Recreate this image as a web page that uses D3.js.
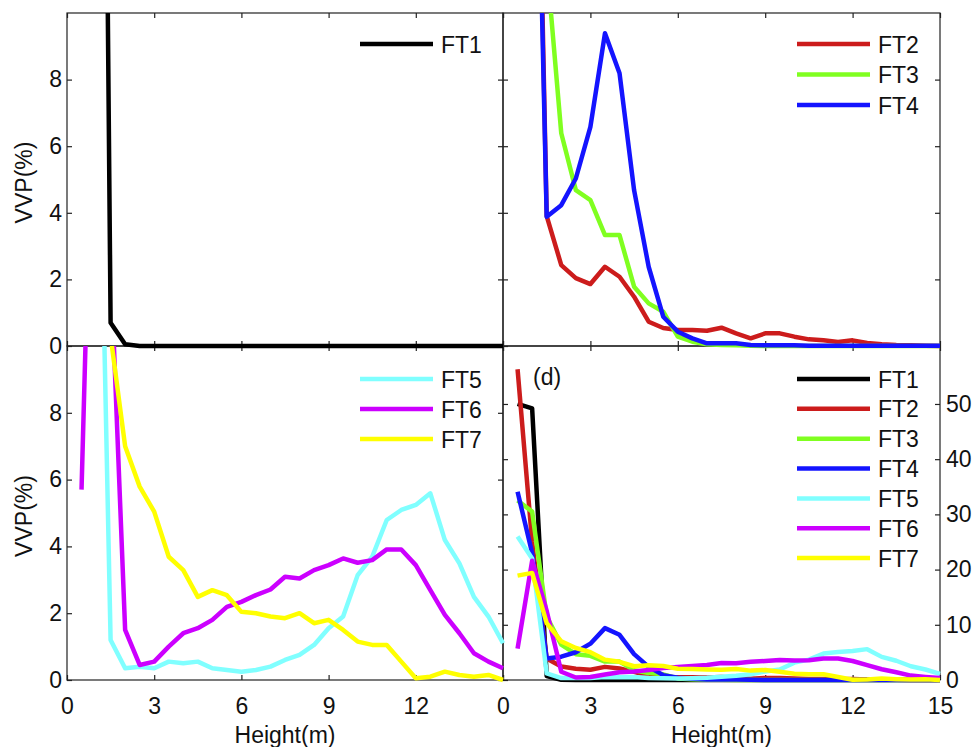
<!DOCTYPE html>
<html><head><meta charset="utf-8">
<script src="https://cdn.jsdelivr.net/npm/d3@7"></script>
<style>
body{margin:0;background:#fff}
svg{display:block}
text{font-family:"Liberation Sans",Arial,Helvetica,sans-serif;fill:#111}
</style>
</head><body>
<svg id="chart" width="976" height="747"></svg>
<script>
// ---------------- data ----------------
const heights = [0.5,1.0,1.5,2.0,2.5,3.0,3.5,4.0,4.5,5.0,5.5,6.0,6.5,7.0,7.5,8.0,8.5,9.0,9.5,10.0,10.5,11.0,11.5,12.0,12.5,13.0,13.5,14.0,14.5,15.0];
const ft1 = [50,49.2,0.7,0.05,0,0,0,0,0,0,0,0,0,0,0,0,0,0,0,0,0,0,0,0,0,0,0,0,0,0];
const ft2 = [56.3,25,3.9,2.43,2.04,1.86,2.38,2.08,1.48,0.73,0.54,0.48,0.48,0.46,0.55,0.38,0.23,0.38,0.38,0.28,0.2,0.17,0.12,0.17,0.09,0.05,0.03,0.02,0.01,0];
const ft3 = [32.5,30.5,11.5,6.39,4.68,4.38,3.33,3.33,1.78,1.28,1.03,0.28,0.13,0.05,0.03,0.02,0.01,0,0,0,0,0,0,0,0,0,0,0,0,0];
const ft4 = [34.1,23,3.88,4.23,5.03,6.58,9.39,8.19,4.68,2.38,0.88,0.43,0.23,0.08,0.08,0.08,0.03,0.02,0.02,0.02,0.01,0.01,0.01,0.01,0.01,0.01,0.01,0.01,0.01,0.01];
const ft5 = [26,22,1.2,0.35,0.4,0.35,0.55,0.5,0.55,0.35,0.3,0.25,0.3,0.4,0.6,0.75,1.05,1.55,1.9,3.14,3.69,4.79,5.09,5.24,5.59,4.19,3.49,2.49,1.9,1.1];
const ft6 = [5.7,21.6,12.5,1.5,0.45,0.55,1.0,1.4,1.55,1.8,2.19,2.34,2.54,2.71,3.09,3.04,3.29,3.44,3.64,3.51,3.59,3.91,3.91,3.44,2.69,1.95,1.4,0.8,0.55,0.35];
const ft7 = [18.9,19.4,10.3,7.0,5.79,5.04,3.69,3.29,2.49,2.69,2.54,2.04,2.0,1.9,1.85,2.0,1.7,1.8,1.5,1.15,1.05,1.05,0.55,0.05,0.1,0.25,0.15,0.1,0.15,0.0];
const seriesNames = ["FT1","FT2","FT3","FT4","FT5","FT6","FT7"];
const seriesValues = [ft1,ft2,ft3,ft4,ft5,ft6,ft7];
const xTickValues = [0,3,6,9,12,15];
const xTickLabelsC = [0,3,6,9,12];
const yTickValues = [0,2,4,6,8];
const yTickValuesD = [0,10,20,30,40,50];
const xLabel = "Height(m)";
const yLabel = "VVP(%)";
const panelDTag = "(d)";

// ---------------- styles ----------------
const colors = ["#000000","#cc1c1c","#80ff20","#1414ff","#80ffff","#cc00ff","#ffff00"];
const FS = 23;
const svg = d3.select("#chart");
const defs = svg.append("defs");

const panels = [
  {id:"a", x0:67,  x1:503, y0:13,  y1:346, ymax:10,   series:[0],           yt:yTickValues, leftLabels:true,  rightLabels:false, xLabels:null,          legend:{x:360, y:44,  step:30.5}},
  {id:"b", x0:503, x1:940, y0:13,  y1:346, ymax:10,   series:[1,2,3],       yt:yTickValues, leftLabels:false, rightLabels:false, xLabels:null,          legend:{x:797, y:44,  step:30.5}},
  {id:"c", x0:67,  x1:503, y0:346, y1:680, ymax:10,   series:[4,5,6],       yt:yTickValues, leftLabels:true,  rightLabels:false, xLabels:xTickLabelsC,  legend:{x:360, y:379, step:30}},
  {id:"d", x0:503, x1:940, y0:346, y1:680, ymax:60.5, series:[0,1,2,3,4,5,6], yt:yTickValuesD, leftLabels:false, rightLabels:true, xLabels:xTickValues, legend:{x:797, y:379, step:29.85}}
];

panels.forEach(p => {
  p.x = d3.scaleLinear().domain([0,15]).range([p.x0,p.x1]);
  p.y = d3.scaleLinear().domain([0,p.ymax]).range([p.y1,p.y0]);
  defs.append("clipPath").attr("id","clip"+p.id)
    .append("rect").attr("x",p.x0-3).attr("y",p.y0).attr("width",p.x1-p.x0+6).attr("height",p.y1-p.y0+3);
});

// axes (boxes + inward ticks)
const axesLayer = svg.append("g");
panels.forEach(p => {
  const g = axesLayer.append("g");
  const styleAxis = sel => {
    sel.select(".domain").remove();
    sel.selectAll(".tick line").attr("stroke","#222").attr("stroke-width",1.2);
    sel.selectAll(".tick text").style("font-size",FS+"px").attr("fill","#111");
  };
  g.append("g").attr("transform",`translate(0,${p.y1})`)
    .call(d3.axisBottom(p.x).tickValues(xTickValues).tickSizeInner(-5).tickSizeOuter(0).tickPadding(18)
      .tickFormat(d => (p.xLabels && p.xLabels.includes(d)) ? d : ""))
    .call(styleAxis);
  g.append("g").attr("transform",`translate(0,${p.y0})`)
    .call(d3.axisTop(p.x).tickValues(xTickValues).tickSizeInner(-5).tickSizeOuter(0).tickFormat(""))
    .call(styleAxis);
  g.append("g").attr("transform",`translate(${p.x0},0)`)
    .call(d3.axisLeft(p.y).tickValues(p.yt).tickSizeInner(-5).tickSizeOuter(0).tickPadding(5)
      .tickFormat(d => p.leftLabels ? d : ""))
    .call(styleAxis);
  g.append("g").attr("transform",`translate(${p.x1},0)`)
    .call(d3.axisRight(p.y).tickValues(p.yt).tickSizeInner(-5).tickSizeOuter(0).tickPadding(6)
      .tickFormat(d => p.rightLabels ? d : ""))
    .call(styleAxis);
  g.append("rect").attr("x",p.x0).attr("y",p.y0).attr("width",p.x1-p.x0).attr("height",p.y1-p.y0)
    .attr("fill","none").attr("stroke","#222").attr("stroke-width",1.2);
});

// data lines (c, d first, then a, b so the upper zero bands lie on top)
const lineLayer = svg.append("g");
["c","d","a","b"].forEach(id => {
  const p = panels.find(q => q.id === id);
  const g = lineLayer.append("g").attr("clip-path",`url(#clip${p.id})`);
  const line = d3.line().x((d,i) => p.x(heights[i])).y(d => p.y(d));
  p.series.forEach(si => {
    g.append("path").datum(seriesValues[si]).attr("d",line)
      .attr("fill","none").attr("stroke",colors[si]).attr("stroke-width",4.5)
      .attr("stroke-linejoin","round");
  });
});

// legends
panels.forEach(p => {
  const g = svg.append("g");
  p.series.forEach((si,k) => {
    const ly = p.legend.y + k*p.legend.step;
    g.append("line").attr("x1",p.legend.x).attr("x2",p.legend.x+73).attr("y1",ly).attr("y2",ly)
      .attr("stroke",colors[si]).attr("stroke-width",4.5);
    g.append("text").attr("x",p.legend.x+81).attr("y",ly+8.5).style("font-size",FS+"px").text(seriesNames[si]);
  });
});

// panel tag
svg.append("text").attr("x",533).attr("y",385).style("font-size",FS+"px").text(panelDTag);

// axis titles
[panels[2],panels[3]].forEach(p => {
  svg.append("text").attr("x",(p.x0+p.x1)/2).attr("y",743).attr("text-anchor","middle")
    .style("font-size",FS+"px").text(xLabel);
});
[panels[0],panels[2]].forEach(p => {
  const cy = (p.y0+p.y1)/2 + 3;
  svg.append("text").attr("transform",`translate(32,${cy}) rotate(-90)`).attr("text-anchor","middle")
    .style("font-size",FS+"px").text(yLabel);
});
</script>
</body></html>
